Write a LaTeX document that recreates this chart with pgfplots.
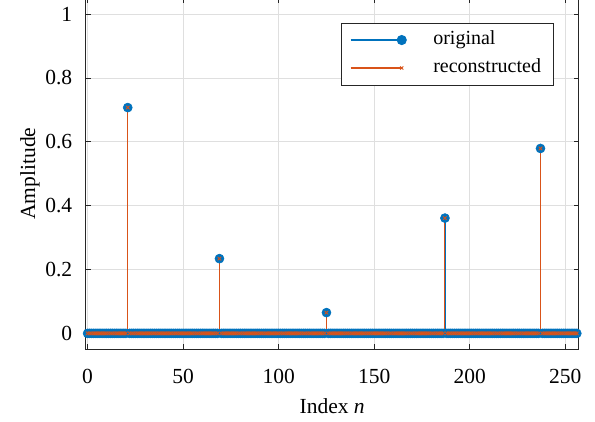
\documentclass[border=0pt]{standalone}
\usepackage{fontspec}
\setmainfont{Liberation Serif}
\usepackage{pgfplots}
\usepackage{pgfplotstable}
\pgfplotsset{compat=1.18}
\usetikzlibrary{calc}
\definecolor{mblue}{HTML}{0072BD}
\definecolor{morange}{HTML}{D95319}
\definecolor{gridc}{HTML}{DFDFDF}
\definecolor{axc}{HTML}{262626}

% line with the marker at its right end, as in a MATLAB stem legend
\pgfplotsset{stemlegend/.style={legend image code/.code={
    \draw[##1] (0bp,0bp) -- (51bp,0bp);
    \draw[##1, only marks] plot coordinates {(51bp,0bp)};
    \path (79bp,0bp);}}}

% sparse test signal, n = 0..256
\pgfplotstableread[row sep=\\]{n y\\%
0 0\\1 0\\2 0\\3 0\\4 0\\5 0\\6 0\\7 0\\8 0\\9 0\\10 0\\11 0\\12 0\\13 0\\14 0\\15 0\\%
16 0\\17 0\\18 0\\19 0\\20 0\\21 0.707\\22 0\\23 0\\24 0\\25 0\\26 0\\27 0\\28 0\\29 0\\30 0\\31 0\\%
32 0\\33 0\\34 0\\35 0\\36 0\\37 0\\38 0\\39 0\\40 0\\41 0\\42 0\\43 0\\44 0\\45 0\\46 0\\47 0\\%
48 0\\49 0\\50 0\\51 0\\52 0\\53 0\\54 0\\55 0\\56 0\\57 0\\58 0\\59 0\\60 0\\61 0\\62 0\\63 0\\%
64 0\\65 0\\66 0\\67 0\\68 0\\69 0.234\\70 0\\71 0\\72 0\\73 0\\74 0\\75 0\\76 0\\77 0\\78 0\\79 0\\%
80 0\\81 0\\82 0\\83 0\\84 0\\85 0\\86 0\\87 0\\88 0\\89 0\\90 0\\91 0\\92 0\\93 0\\94 0\\95 0\\%
96 0\\97 0\\98 0\\99 0\\100 0\\101 0\\102 0\\103 0\\104 0\\105 0\\106 0\\107 0\\108 0\\109 0\\110 0\\111 0\\%
112 0\\113 0\\114 0\\115 0\\116 0\\117 0\\118 0\\119 0\\120 0\\121 0\\122 0\\123 0\\124 0\\125 0.065\\126 0\\127 0\\%
128 0\\129 0\\130 0\\131 0\\132 0\\133 0\\134 0\\135 0\\136 0\\137 0\\138 0\\139 0\\140 0\\141 0\\142 0\\143 0\\%
144 0\\145 0\\146 0\\147 0\\148 0\\149 0\\150 0\\151 0\\152 0\\153 0\\154 0\\155 0\\156 0\\157 0\\158 0\\159 0\\%
160 0\\161 0\\162 0\\163 0\\164 0\\165 0\\166 0\\167 0\\168 0\\169 0\\170 0\\171 0\\172 0\\173 0\\174 0\\175 0\\%
176 0\\177 0\\178 0\\179 0\\180 0\\181 0\\182 0\\183 0\\184 0\\185 0\\186 0\\187 0.361\\188 0\\189 0\\190 0\\191 0\\%
192 0\\193 0\\194 0\\195 0\\196 0\\197 0\\198 0\\199 0\\200 0\\201 0\\202 0\\203 0\\204 0\\205 0\\206 0\\207 0\\%
208 0\\209 0\\210 0\\211 0\\212 0\\213 0\\214 0\\215 0\\216 0\\217 0\\218 0\\219 0\\220 0\\221 0\\222 0\\223 0\\%
224 0\\225 0\\226 0\\227 0\\228 0\\229 0\\230 0\\231 0\\232 0\\233 0\\234 0\\235 0\\236 0\\237 0.579\\238 0\\239 0\\%
240 0\\241 0\\242 0\\243 0\\244 0\\245 0\\246 0\\247 0\\248 0\\249 0\\250 0\\251 0\\252 0\\253 0\\254 0\\255 0\\%
256 0\\%
}\sigdata

\begin{document}
\begin{tikzpicture}
\begin{axis}[
  name=ax,
  scale only axis, width=493bp, height=351.3bp,
  xmin=-1, xmax=257, ymin=-0.05, ymax=1.05,
  xtick={0,50,100,150,200,250},
  ytick={0,0.2,0.4,0.6,0.8,1},
  yticklabels={0,0.2,0.4,0.6,0.8,1},
  grid=major, major grid style={gridc, line width=0.6bp},
  axis line style={axc, line width=0.6bp},
  tick style={axc, line width=0.6bp},
  major tick length=5bp,
  /pgf/number format/assume math mode=true,
  tick label style={font=\fontsize{21.5bp}{24bp}\selectfont, color=black},
  xticklabel style={yshift=-16.5bp},
  yticklabel style={xshift=-10bp},
  label style={font=\fontsize{21.5bp}{24bp}\selectfont},
  xlabel={Index \textit{n}},
  xlabel style={at={(axis description cs:0.5,0)}, anchor=base, yshift=-63.7bp},
  ylabel={Amplitude},
  ylabel style={at={(axis description cs:0,0.5)}, anchor=center, yshift=55.7bp},
  clip=false,
  legend style={at={(rel axis cs:0.9485,0.9297)}, anchor=north east,
    draw=axc, line width=0.6bp, fill=white,
    font=\fontsize{20bp}{24bp}\selectfont,
    inner xsep=9bp, inner ysep=6bp, row sep=6bp,
    nodes={inner xsep=3bp, inner ysep=1.5bp, text height=14bp, text depth=5bp}},
  legend cell align=left,
]
\addlegendimage{mblue, line width=1.1bp, mark=*, mark size=4.5bp, stemlegend}
\addlegendentry{original}
\addlegendimage{morange, line width=1.1bp, mark=x, mark size=2.2bp,
  mark options={line width=0.8bp}, stemlegend}
\addlegendentry{reconstructed}

\addplot[forget plot, ycomb, mblue, line width=0.6bp, mark=*, mark size=4.5bp]
  table[x=n, y=y] {\sigdata};
\addplot[forget plot, ycomb, morange, line width=0.9bp, mark=x, mark size=2.5bp,
  mark options={line width=0.9bp}]
  table[x=n, y=y] {\sigdata};
\end{axis}
\pgfresetboundingbox
\path[use as bounding box] ($(ax.south west)+(-85.7bp,-71.7bp)$) rectangle ($(ax.north east)+(16.3bp,-1.96bp)$);
\end{tikzpicture}
\end{document}
